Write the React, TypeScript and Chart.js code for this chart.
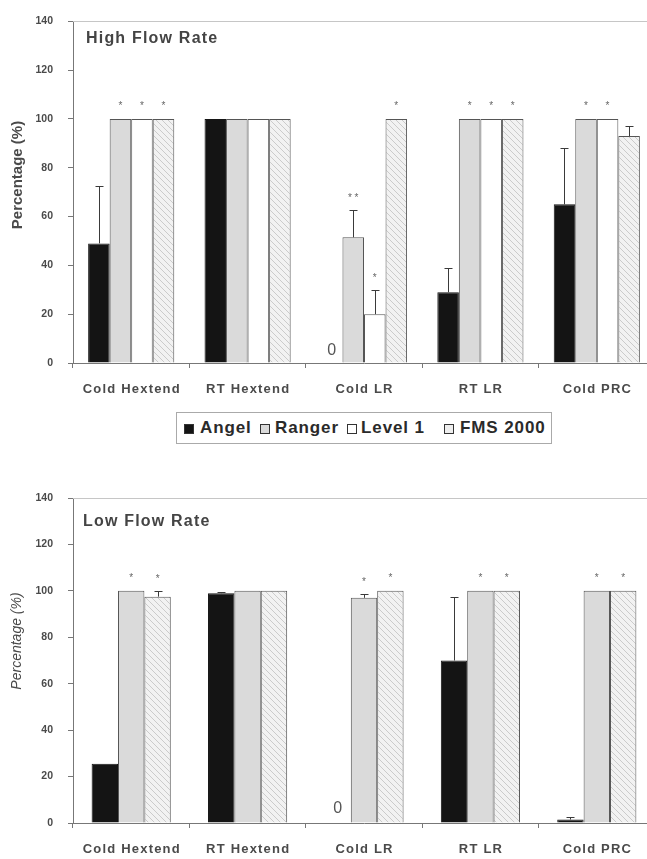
import React, { useEffect, useRef } from 'react';
import { Chart, registerables } from 'chart.js';

Chart.register(...registerables);

const categories = ['Cold Hextend', 'RT Hextend', 'Cold LR', 'RT LR', 'Cold PRC'];
const yTickValues = [0, 20, 40, 60, 80, 100, 120, 140];
const seriesNames = ['Angel', 'Ranger', 'Level 1', 'FMS 2000'];

// High flow rate
const highAngel = [49, 100, 0, 29, 65];
const highAngelErr = [72.5, null, null, 39, 88];
const highRanger = [100, 100, 51.5, 100, 100];
const highRangerErr = [null, null, 62.5, null, null];
const highLevel1 = [100, 100, 20, 100, 100];
const highLevel1Err = [null, null, 30, null, null];
const highFms = [100, 100, 100, 100, 93];
const highFmsErr = [null, null, null, null, 97];
const highAngelMarks = ['', '', '', '', ''];
const highRangerMarks = ['*', '', '* *', '*', '*'];
const highLevel1Marks = ['*', '', '*', '*', '*'];
const highFmsMarks = ['*', '', '*', '*', ''];

// Low flow rate
const lowAngel = [25.5, 99, 0, 70, 1.5];
const lowAngelErr = [null, 99.6, null, 97.5, 2.5];
const lowRanger = [100, 100, 97, 100, 100];
const lowRangerErr = [null, null, 98.8, null, null];
const lowFms = [97.5, 100, 100, 100, 100];
const lowFmsErr = [100, null, null, null, null];
const lowAngelMarks = ['', '', '', '', ''];
const lowRangerMarks = ['*', '', '*', '*', '*'];
const lowFmsMarks = ['*', '', '*', '*', '*'];

const FONT = '"Liberation Sans", Arial, sans-serif';
const AXIS = '#777';
const TEXT = '#4a4a4a';

function makeHatch(): CanvasPattern | string {
  const c = document.createElement('canvas');
  c.width = 6;
  c.height = 6;
  const g = c.getContext('2d');
  if (!g) return '#eeeeee';
  g.fillStyle = '#f2f2f2';
  g.fillRect(0, 0, 6, 6);
  g.strokeStyle = '#cbcbcb';
  g.lineWidth = 1;
  g.beginPath();
  g.moveTo(0, 0);
  g.lineTo(6, 6);
  g.moveTo(-1, 5);
  g.lineTo(1, 7);
  g.moveTo(5, -1);
  g.lineTo(7, 1);
  g.stroke();
  return g.createPattern(c, 'repeat') || '#eeeeee';
}

interface Cfg {
  title: string;
  titleX: number;
  titleBaseline: number;
  yTitle: string;
  yTitleFont: string;
  yTitleX: number;
  yTitleY: number;
  zeroOffset: number;
  labelOffset: number;
}

function makeDecor(cfg: Cfg) {
  return {
    id: 'decor',
    beforeDatasetsDraw(chart: any) {
      const { ctx, chartArea } = chart;
      ctx.save();
      ctx.strokeStyle = '#c6c6c6';
      ctx.lineWidth = 1;
      ctx.beginPath();
      ctx.moveTo(chartArea.left, Math.round(chartArea.top) + 0.5);
      ctx.lineTo(chartArea.right, Math.round(chartArea.top) + 0.5);
      ctx.stroke();
      ctx.restore();
    },
    afterDatasetsDraw(chart: any) {
      const { ctx, chartArea } = chart;
      const yScale = chart.scales.y;
      const xScale = chart.scales.x;
      ctx.save();
      chart.data.datasets.forEach((ds: any, i: number) => {
        const meta = chart.getDatasetMeta(i);
        meta.data.forEach((bar: any, j: number) => {
          const v = ds.data[j];
          let top = bar.y;
          const e = ds.errTop ? ds.errTop[j] : null;
          if (e !== null && e !== undefined) {
            const ey = Math.round(yScale.getPixelForValue(e)) + 0.5;
            const bx = Math.round(bar.x) + 0.5;
            ctx.strokeStyle = '#3a3a3a';
            ctx.lineWidth = 1;
            ctx.beginPath();
            ctx.moveTo(bx, bar.y);
            ctx.lineTo(bx, ey);
            ctx.moveTo(bx - 4, ey);
            ctx.lineTo(bx + 4, ey);
            ctx.stroke();
            top = Math.min(top, ey);
          }
          const m = ds.marks ? ds.marks[j] : '';
          if (m) {
            ctx.fillStyle = '#666';
            ctx.font = `10px ${FONT}`;
            ctx.textAlign = 'center';
            ctx.textBaseline = 'alphabetic';
            ctx.fillText(m, bar.x, top - 15 + 5.5);
          }
          if (ds.zeroLabel && v === 0) {
            ctx.fillStyle = '#555';
            ctx.font = `16px ${FONT}`;
            ctx.textAlign = 'center';
            ctx.textBaseline = 'alphabetic';
            ctx.fillText('0', bar.x, chartArea.bottom - cfg.zeroOffset);
          }
        });
      });
      ctx.restore();

      // category labels
      ctx.save();
      ctx.fillStyle = TEXT;
      ctx.font = `bold 13px ${FONT}`;
      (ctx as any).letterSpacing = '1.2px';
      ctx.textAlign = 'center';
      ctx.textBaseline = 'alphabetic';
      categories.forEach((c, i) => {
        ctx.fillText(c, xScale.getPixelForValue(i) + 0.6, chartArea.bottom + cfg.labelOffset);
      });
      // panel title
      ctx.textAlign = 'left';
      ctx.font = `bold 16px ${FONT}`;
      (ctx as any).letterSpacing = '1.2px';
      ctx.fillStyle = '#444';
      ctx.fillText(cfg.title, cfg.titleX, cfg.titleBaseline);
      // y title
      (ctx as any).letterSpacing = '0px';
      ctx.translate(cfg.yTitleX, cfg.yTitleY);
      ctx.rotate(-Math.PI / 2);
      ctx.font = cfg.yTitleFont;
      ctx.textAlign = 'center';
      ctx.textBaseline = 'middle';
      ctx.fillStyle = TEXT;
      ctx.fillText(cfg.yTitle, 0, 0);
      ctx.restore();
    },
  };
}

function buildOptions(padTop: number, xHeight: number): any {
  return {
    animation: false,
    responsive: false,
    maintainAspectRatio: false,
    layout: { padding: { top: padTop, right: 5, left: 0, bottom: 0 } },
    plugins: { legend: { display: false }, tooltip: { enabled: false } },
    scales: {
      x: {
        type: 'category',
        grid: { display: true, drawOnChartArea: false, drawTicks: true, tickLength: 5, color: AXIS, offset: true },
        border: { display: true, color: AXIS, width: 1 },
        ticks: { display: false },
        afterFit: (s: any) => {
          s.height = xHeight;
        },
      },
      y: {
        min: 0,
        max: 140,
        afterBuildTicks: (s: any) => {
          s.ticks = yTickValues.map((v) => ({ value: v }));
        },
        grid: { display: true, drawOnChartArea: false, drawTicks: true, tickLength: 5, color: AXIS },
        border: { display: true, color: AXIS, width: 1 },
        ticks: { font: { family: FONT, size: 10.5, weight: 'bold' }, color: '#4a4a4a', padding: 15 },
        afterFit: (s: any) => {
          s.width = 73;
        },
      },
    },
  };
}

function ds(label: string, data: number[], err: (number | null)[], marks: string[], bg: any, border: string, cp: number, zero = false): any {
  return {
    label,
    data,
    errTop: err,
    marks,
    zeroLabel: zero,
    backgroundColor: bg,
    borderColor: border,
    borderWidth: 1,
    categoryPercentage: cp,
    barPercentage: 1,
  };
}

export default function App() {
  const topRef = useRef<HTMLCanvasElement | null>(null);
  const botRef = useRef<HTMLCanvasElement | null>(null);

  useEffect(() => {
    const hatch = makeHatch();
    const charts: Chart[] = [];
    if (topRef.current) {
      charts.push(
        new Chart(topRef.current, {
          type: 'bar',
          data: {
            labels: categories,
            datasets: [
              ds(seriesNames[0], highAngel, highAngelErr, highAngelMarks, '#141414', '#141414', 0.74, true),
              ds(seriesNames[1], highRanger, highRangerErr, highRangerMarks, '#dadada', '#555', 0.74),
              ds(seriesNames[2], highLevel1, highLevel1Err, highLevel1Marks, '#ffffff', '#555', 0.74),
              ds(seriesNames[3], highFms, highFmsErr, highFmsMarks, hatch, '#555', 0.74),
            ],
          },
          options: buildOptions(15, 37),
          plugins: [
            makeDecor({
              title: 'High Flow Rate',
              titleX: 86,
              titleBaseline: 43,
              yTitle: 'Percentage (%)',
              yTitleFont: `bold 15px ${FONT}`,
              yTitleX: 18,
              yTitleY: 175,
              zeroOffset: 8,
              labelOffset: 29.5,
            }),
          ],
        } as any)
      );
    }
    if (botRef.current) {
      charts.push(
        new Chart(botRef.current, {
          type: 'bar',
          data: {
            labels: categories,
            datasets: [
              ds(seriesNames[0], lowAngel, lowAngelErr, lowAngelMarks, '#141414', '#141414', 0.68, true),
              ds(seriesNames[1], lowRanger, lowRangerErr, lowRangerMarks, '#dadada', '#555', 0.68),
              ds(seriesNames[3], lowFms, lowFmsErr, lowFmsMarks, hatch, '#555', 0.68),
            ],
          },
          options: buildOptions(28, 36),
          plugins: [
            makeDecor({
              title: 'Low Flow Rate',
              titleX: 83,
              titleBaseline: 526 - 470,
              yTitle: 'Percentage (%)',
              yTitleFont: `italic 14px ${FONT}`,
              yTitleX: 17,
              yTitleY: 641 - 470,
              zeroOffset: 10,
              labelOffset: 30,
            }),
          ],
        } as any)
      );
    }
    return () => {
      charts.forEach((c) => c.destroy());
    };
  }, []);

  const iconStyle = (bg: string): React.CSSProperties => ({
    position: 'absolute',
    top: 11,
    width: 8,
    height: 8,
    border: '1px solid #333',
    background: bg,
  });
  const textStyle: React.CSSProperties = {
    position: 'absolute',
    top: 4,
    font: `bold 17px ${FONT}`,
    letterSpacing: '0.9px',
    color: '#2a2a2a',
    lineHeight: '22px',
    whiteSpace: 'nowrap',
  };
  const legendLeft = 176;
  return (
    <div style={{ position: 'absolute', left: 0, top: 0, width: 647, height: 859, overflow: 'hidden', background: '#fff' }}>
      <canvas ref={topRef} width={660} height={400} style={{ position: 'absolute', left: 0, top: 0, display: 'block' }} />
      <canvas ref={botRef} width={660} height={389} style={{ position: 'absolute', left: 0, top: 470, display: 'block' }} />
      <div
        style={{
          position: 'absolute',
          left: legendLeft,
          top: 412,
          width: 374,
          height: 30,
          border: '1px solid #aaa',
          boxSizing: 'content-box',
        }}
      >
        <span style={{ ...iconStyle('#141414'), left: 183 - legendLeft }} />
        <span style={{ ...textStyle, left: 199 - legendLeft }}>{seriesNames[0]}</span>
        <span style={{ ...iconStyle('#dadada'), left: 259 - legendLeft }} />
        <span style={{ ...textStyle, left: 274 - legendLeft }}>{seriesNames[1]}</span>
        <span style={{ ...iconStyle('#ffffff'), left: 346 - legendLeft }} />
        <span style={{ ...textStyle, left: 360 - legendLeft }}>{seriesNames[2]}</span>
        <span style={{ ...iconStyle('#eeeeee'), left: 443 - legendLeft }} />
        <span style={{ ...textStyle, left: 459 - legendLeft }}>{seriesNames[3]}</span>
      </div>
    </div>
  );
}
